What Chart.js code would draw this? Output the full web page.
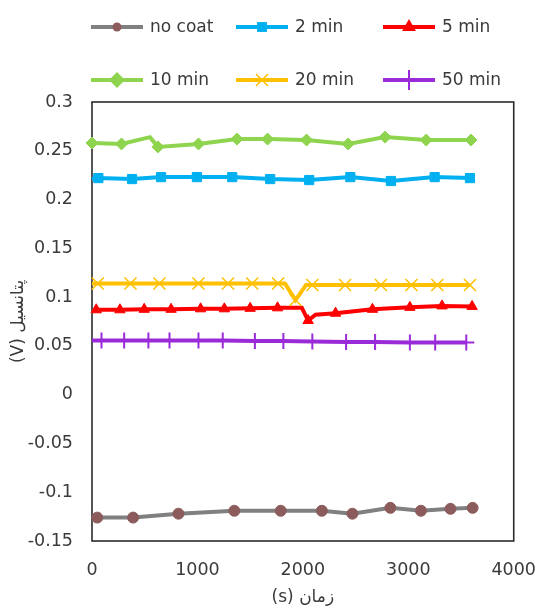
<!DOCTYPE html>
<html>
<head>
<meta charset="utf-8">
<script src="https://cdn.jsdelivr.net/npm/chart.js@4.4.1/dist/chart.umd.min.js"></script>
<style>
html,body{margin:0;padding:0;background:#fff;}
#wrap{width:555px;height:609px;}
</style>
</head>
<body>
<div id="wrap"><canvas id="c" width="555" height="609"></canvas></div>
<script>
// ---- data ----
const seriesLabels = ['no coat', '2 min', '5 min', '10 min', '20 min', '50 min'];

const noCoatTime = [50, 390, 820, 1350, 1790, 2180, 2470, 2830, 3120, 3400, 3610];
const noCoat     = [-0.126, -0.126, -0.122, -0.119, -0.119, -0.119, -0.122, -0.116, -0.119, -0.117, -0.116];

const min2Time = [0, 60, 380, 655, 995, 1330, 1690, 2060, 2450, 2835, 3250, 3585];
const min2     = [0.221, 0.222, 0.221, 0.223, 0.223, 0.223, 0.221, 0.220, 0.223, 0.219, 0.223, 0.222];

const min5Time = [40, 265, 495, 750, 1030, 1255, 1500, 1760, 1990, 2050, 2120, 2310, 2660, 3015, 3320, 3605];
const min5     = [0.087, 0.087, 0.0875, 0.0875, 0.088, 0.088, 0.0885, 0.089, 0.089, 0.076, 0.082, 0.0835, 0.0875, 0.0895, 0.091, 0.0905];

const min10Time = [0, 280, 550, 625, 1010, 1375, 1665, 2035, 2430, 2780, 3170, 3595];
const min10     = [0.258, 0.257, 0.264, 0.254, 0.257, 0.262, 0.262, 0.261, 0.257, 0.264, 0.261, 0.261];

const min20Time = [0, 55, 365, 640, 1010, 1290, 1520, 1765, 1830, 1930, 2030, 2090, 2400, 2740, 3030, 3275, 3585];
const min20     = [0.114, 0.114, 0.114, 0.114, 0.114, 0.114, 0.114, 0.114, 0.114, 0.097, 0.1125, 0.1125, 0.1125, 0.1125, 0.1125, 0.1125, 0.1125];

const min50Time = [0, 90, 305, 535, 735, 1010, 1240, 1545, 1815, 2090, 2410, 2685, 3015, 3255, 3550];
const min50     = [0.0555, 0.0555, 0.0555, 0.0555, 0.0555, 0.0555, 0.0555, 0.055, 0.055, 0.0545, 0.054, 0.054, 0.0535, 0.0535, 0.0535];

const xTicks = [0, 1000, 2000, 3000, 4000];
const yTicks = [-0.15, -0.1, -0.05, 0, 0.05, 0.1, 0.15, 0.2, 0.25, 0.3];
const xTitle = '(s) زمان';
const yTitle = '(V) پتانسیل';

// ---- styling ----
const FONT = 'DejaVu Sans';
const TEXT = '#3a3a3a';
const zip = (t, v) => t.map((x, i) => ({x: x, y: v[i]}));

function makeSet(i, t, v, s) {
  return Object.assign({
    label: seriesLabels[i],
    data: zip(t, v),
    borderWidth: 4,
    tension: 0,
    fill: false,
    clip: false,
    order: 10 - i,
    pointRadius: ctx => (ctx.dataset.lineOnly || []).includes(ctx.dataIndex) ? 0 : ctx.dataset.markerSize,
    pointHoverRadius: 0
  }, s);
}

const datasets = [
  makeSet(0, noCoatTime, noCoat, {borderColor: '#808080', pointBackgroundColor: '#8C5C5C', pointBorderColor: '#8C5C5C', pointStyle: 'circle', markerSize: 5.5, legendSize: 4.5, pointBorderWidth: 1, lineOnly: []}),
  makeSet(1, min2Time, min2, {borderColor: '#00B0F0', pointBackgroundColor: '#00B0F0', pointBorderColor: '#00B0F0', pointStyle: 'rect', markerSize: 6.5, legendSize: 7, pointBorderWidth: 1, lineOnly: [0]}),
  makeSet(2, min5Time, min5, {borderColor: '#FF0000', pointBackgroundColor: '#FF0000', pointBorderColor: '#FF0000', pointStyle: 'triangle', markerSize: 6, legendSize: 8, pointBorderWidth: 1, lineOnly: [8, 10]}),
  makeSet(3, min10Time, min10, {borderColor: '#8FD44E', pointBackgroundColor: '#8FD44E', pointBorderColor: '#8FD44E', pointStyle: 'rectRot', markerSize: 6, legendSize: 8, pointBorderWidth: 1, lineOnly: [2]}),
  makeSet(4, min20Time, min20, {borderColor: '#FFC000', pointBackgroundColor: '#FFC000', pointBorderColor: '#FFC000', pointStyle: 'crossRot', markerSize: 8.5, legendSize: 8.5, pointBorderWidth: 1.5, lineOnly: [0, 8, 10]}),
  makeSet(5, min50Time, min50, {borderColor: '#9A2BD8', pointBackgroundColor: '#9A2BD8', pointBorderColor: '#9A2BD8', pointStyle: 'cross', markerSize: 8, legendSize: 10, pointBorderWidth: 2, lineOnly: [0]})
];

function drawMarker(ctx, style, x, y, r, color, lw) {
  ctx.save();
  ctx.fillStyle = color; ctx.strokeStyle = color; ctx.lineWidth = lw;
  ctx.beginPath();
  if (style === 'circle') { ctx.arc(x, y, r, 0, Math.PI * 2); ctx.fill(); }
  else if (style === 'rect') { const s = r * Math.SQRT1_2; ctx.rect(x - s, y - s, 2 * s, 2 * s); ctx.fill(); }
  else if (style === 'triangle') {
    for (let k = 0; k < 3; k++) { const a = k * 2 * Math.PI / 3; const px = x + Math.sin(a) * r, py = y - Math.cos(a) * r; k ? ctx.lineTo(px, py) : ctx.moveTo(px, py); }
    ctx.closePath(); ctx.fill();
  }
  else if (style === 'rectRot') { ctx.moveTo(x, y - r); ctx.lineTo(x + r, y); ctx.lineTo(x, y + r); ctx.lineTo(x - r, y); ctx.closePath(); ctx.fill(); }
  else if (style === 'crossRot') { const s = r * Math.SQRT1_2; ctx.moveTo(x - s, y - s); ctx.lineTo(x + s, y + s); ctx.moveTo(x + s, y - s); ctx.lineTo(x - s, y + s); ctx.stroke(); }
  else if (style === 'cross') { ctx.moveTo(x, y - r); ctx.lineTo(x, y + r); ctx.moveTo(x - r, y); ctx.lineTo(x + r, y); ctx.stroke(); }
  ctx.restore();
}

const legendPlugin = {
  id: 'gridLegend',
  afterDraw(chart) {
    const ctx = chart.ctx;
    const cols = [91, 236, 383];
    const rows = [27, 80];
    const lineLen = 52;
    chart.data.datasets.forEach((ds, i) => {
      const x0 = cols[i % 3], y = rows[Math.floor(i / 3)];
      ctx.save();
      ctx.strokeStyle = ds.borderColor; ctx.lineWidth = 4; ctx.lineCap = 'butt';
      ctx.beginPath(); ctx.moveTo(x0, y); ctx.lineTo(x0 + lineLen, y); ctx.stroke();
      ctx.restore();
      drawMarker(ctx, ds.pointStyle, x0 + lineLen / 2, y, ds.legendSize, ds.pointBackgroundColor, ds.pointBorderWidth);
      ctx.save();
      ctx.fillStyle = TEXT; ctx.font = '17px "' + FONT + '"';
      ctx.textAlign = 'left'; ctx.textBaseline = 'middle';
      ctx.fillText(ds.label, x0 + lineLen + 7, y + 1);
      ctx.restore();
    });
  }
};

const framePlugin = {
  id: 'frame',
  beforeDatasetsDraw(chart) {
    const a = chart.chartArea, ctx = chart.ctx;
    ctx.save();
    ctx.strokeStyle = '#2b2b2b'; ctx.lineWidth = 1.6;
    ctx.strokeRect(a.left, a.top, a.right - a.left, a.bottom - a.top);
    ctx.restore();
  }
};

const tickFont = {family: FONT, size: 17.5};

new Chart(document.getElementById('c'), {
  type: 'line',
  data: {datasets: datasets},
  options: {
    responsive: false,
    animation: false,
    events: [],
    layout: {padding: {top: 102, right: 28, bottom: 0, left: 0}},
    plugins: {legend: {display: false}, tooltip: {enabled: false}},
    scales: {
      x: {
        type: 'linear', min: 0, max: 4000,
        grid: {display: false, drawTicks: false},
        border: {display: false},
        afterBuildTicks: s => { s.ticks = xTicks.map(v => ({value: v})); },
        afterFit: s => { s.height = 68; },
        ticks: {padding: 19, font: tickFont, color: TEXT, maxRotation: 0, callback: v => String(v)},
        title: {display: true, text: xTitle, font: {family: FONT, size: 17}, color: TEXT, padding: {top: 0, bottom: 1}}
      },
      y: {
        type: 'linear', min: -0.15, max: 0.3,
        grid: {display: false, drawTicks: false},
        border: {display: false},
        afterBuildTicks: s => { s.ticks = yTicks.map(v => ({value: v})); },
        afterFit: s => { s.width = 92; },
        ticks: {padding: 19, font: tickFont, color: TEXT, callback: v => String(+(+v).toFixed(2))},
        title: {display: true, text: yTitle, font: {family: FONT, size: 17}, color: TEXT, padding: {top: 8, bottom: 0}}
      }
    }
  },
  plugins: [framePlugin, legendPlugin]
});
</script>
</body>
</html>
